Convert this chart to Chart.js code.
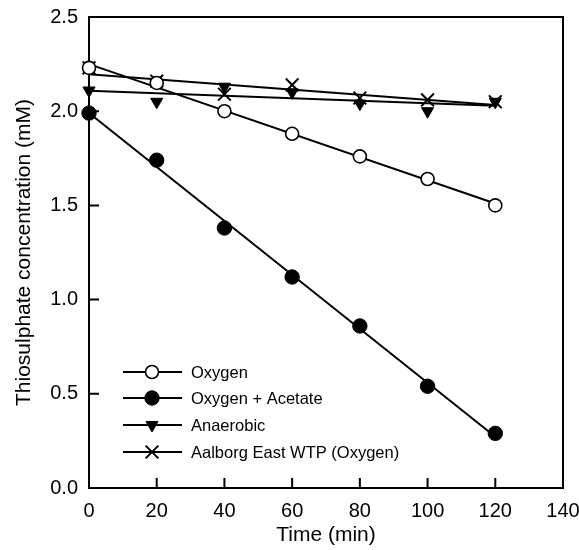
<!DOCTYPE html>
<html>
<head>
<meta charset="utf-8">
<script src="https://cdn.jsdelivr.net/npm/chart.js@4"></script>
<style>
  html, body { margin: 0; padding: 0; background: #fff; }
  #wrap { width: 579px; height: 550px; position: relative; }
</style>
</head>
<body>
<div id="wrap"><canvas id="chart"></canvas></div>
<script>
// Sampling times (min)
const times = [0, 20, 40, 60, 80, 100, 120];

// Thiosulphate concentration (mM)
const oxygen = [2.23, 2.15, 2.00, 1.88, 1.76, 1.64, 1.50];
const oxygenAcetate = [1.99, 1.74, 1.38, 1.12, 0.86, 0.54, 0.29];
const anaerobic = [2.11, 2.05, 2.13, 2.10, 2.04, 2.00, 2.05];
const aalborg = [2.23, 2.16, 2.09, 2.14, 2.07, 2.06, 2.05];

const seriesNames = ['Oxygen', 'Oxygen + Acetate', 'Anaerobic', 'Aalborg East WTP (Oxygen)'];

const xTicks = [0, 20, 40, 60, 80, 100, 120, 140];
const yTicks = [0, 0.5, 1.0, 1.5, 2.0, 2.5];

const FONT = '"Liberation Sans", Arial, Helvetica, sans-serif';

// marker look per series
const markers = [
  { pointStyle: 'circle', radius: 6.5, fill: '#fff', borderWidth: 1.6, rotation: 0 },
  { pointStyle: 'circle', radius: 7.2, fill: '#000', borderWidth: 1, rotation: 0 },
  { pointStyle: 'triangle', radius: 7, fill: '#000', borderWidth: 1, rotation: 180 },
  { pointStyle: 'crossRot', radius: 9, fill: '#000', borderWidth: 2, rotation: 0 },
];

// least squares line through the points
function fitLine(xs, ys) {
  const n = xs.length;
  const mx = xs.reduce((a, b) => a + b, 0) / n;
  const my = ys.reduce((a, b) => a + b, 0) / n;
  let sxy = 0, sxx = 0;
  for (let i = 0; i < n; i++) {
    sxy += (xs[i] - mx) * (ys[i] - my);
    sxx += (xs[i] - mx) * (xs[i] - mx);
  }
  const b = sxy / sxx;
  const a = my - b * mx;
  const x0 = xs[0], x1 = xs[n - 1];
  return [{ x: x0, y: a + b * x0 }, { x: x1, y: a + b * x1 }];
}

const allSeries = [oxygen, oxygenAcetate, anaerobic, aalborg];
const datasets = [];
allSeries.forEach((vals, i) => {
  datasets.push({
    label: seriesNames[i] + ' fit',
    data: fitLine(times, vals),
    showLine: true,
    borderColor: '#000',
    borderWidth: 2,
    pointRadius: 0,
    clip: false,
    order: 2,
  });
});
allSeries.forEach((vals, i) => {
  const m = markers[i];
  datasets.push({
    label: seriesNames[i],
    data: times.map((t, j) => ({ x: t, y: vals[j] })),
    showLine: false,
    pointStyle: m.pointStyle,
    pointRadius: m.radius,
    pointRotation: m.rotation,
    pointBackgroundColor: m.fill,
    pointBorderColor: '#000',
    pointBorderWidth: m.borderWidth,
    clip: false,
    order: 1,
  });
});

// frame box + inward tick marks + legend
const framePlugin = {
  id: 'frame',
  beforeDatasetsDraw(chart) {
    const { ctx, chartArea: a, scales } = chart;
    ctx.save();
    ctx.strokeStyle = '#000';
    ctx.lineWidth = 2;
    ctx.strokeRect(a.left, a.top, a.right - a.left, a.bottom - a.top);
    ctx.beginPath();
    xTicks.slice(1, -1).forEach(v => {
      const px = scales.x.getPixelForValue(v);
      ctx.moveTo(px, a.bottom);
      ctx.lineTo(px, a.bottom - 10);
    });
    yTicks.slice(1, -1).forEach(v => {
      const py = scales.y.getPixelForValue(v);
      ctx.moveTo(a.left, py);
      ctx.lineTo(a.left + 10, py);
    });
    ctx.stroke();
    ctx.restore();
  },
  afterDraw(chart) {
    const { ctx } = chart;
    ctx.save();
    // legend
    const lx0 = 123, lx1 = 182, mx = 152, tx = 191;
    const rows = [372, 398, 425, 452];
    ctx.font = '16.5px ' + FONT;
    ctx.textBaseline = 'middle';
    ctx.textAlign = 'left';
    seriesNames.forEach((name, i) => {
      const y = rows[i];
      const m = markers[i];
      ctx.lineWidth = 2;
      ctx.strokeStyle = '#000';
      ctx.beginPath();
      ctx.moveTo(lx0, y);
      ctx.lineTo(lx1, y);
      ctx.stroke();
      ctx.fillStyle = m.fill;
      ctx.lineWidth = m.borderWidth;
      Chart.helpers.drawPoint(ctx, {
        pointStyle: m.pointStyle,
        radius: m.radius,
        rotation: m.rotation,
        borderWidth: m.borderWidth,
      }, mx, y);
      ctx.fillStyle = '#000';
      ctx.fillText(name, tx, y + 1);
    });
    ctx.restore();
  }
};

new Chart(document.getElementById('chart'), {
  type: 'scatter',
  data: { datasets },
  options: {
    responsive: true,
    maintainAspectRatio: false,
    animation: false,
    layout: { padding: { top: 17, right: 16, left: 0, bottom: 0 } },
    plugins: {
      legend: { display: false },
      tooltip: { enabled: false },
    },
    scales: {
      x: {
        type: 'linear',
        min: 0,
        max: 140,
        afterFit: (s) => { s.height = 62; s.paddingLeft = 0; s.paddingRight = 0; },
        afterBuildTicks: (s) => { s.ticks = xTicks.map(v => ({ value: v })); },
        grid: { display: false, drawTicks: false },
        border: { display: false },
        ticks: {
          color: '#000',
          padding: 11,
          maxRotation: 0,
          autoSkip: false,
          font: { family: FONT, size: 20 },
        },
        title: {
          display: true,
          text: 'Time (min)',
          color: '#000',
          padding: { top: 0, bottom: 2 },
          font: { family: FONT, size: 21 },
        },
      },
      y: {
        type: 'linear',
        min: 0,
        max: 2.5,
        afterFit: (s) => { s.width = 89; s.paddingTop = 0; s.paddingBottom = 0; },
        afterBuildTicks: (s) => { s.ticks = yTicks.map(v => ({ value: v })); },
        grid: { display: false, drawTicks: false },
        border: { display: false },
        ticks: {
          color: '#000',
          padding: 11,
          font: { family: FONT, size: 20 },
          callback: (v) => v.toFixed(1),
        },
        title: {
          display: true,
          text: 'Thiosulphate concentration (mM)',
          color: '#000',
          padding: { top: 11.5, bottom: 0 },
          font: { family: FONT, size: 21 },
        },
      },
    },
  },
  plugins: [framePlugin],
});
</script>
</body>
</html>
